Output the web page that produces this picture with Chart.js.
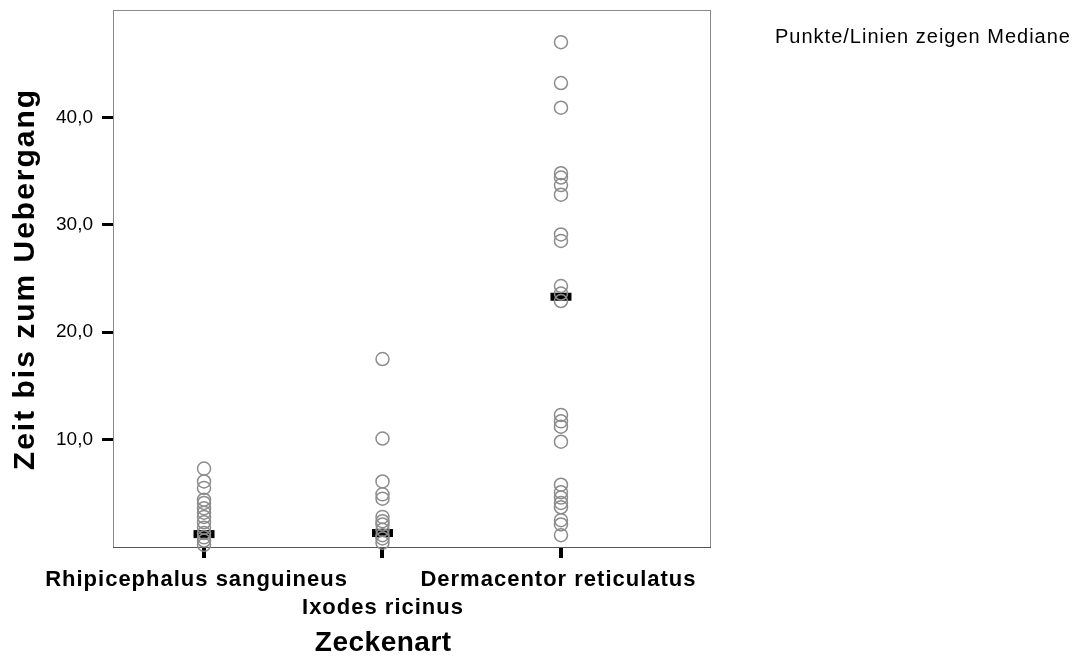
<!DOCTYPE html>
<html>
<head>
<meta charset="utf-8">
<script src="https://cdn.jsdelivr.net/npm/chart.js@4/dist/chart.umd.min.js"></script>
<style>
  html, body { margin: 0; padding: 0; background: #fff; }
  canvas { display: block; }
</style>
</head>
<body>
<canvas id="chart" width="1085" height="660"></canvas>
<script>
const categories = ['Rhipicephalus sanguineus', 'Ixodes ricinus', 'Dermacentor reticulatus'];
const rhipicephalusTimes = [7.3, 6.1, 5.5, 4.4, 4.1, 3.6, 3.2, 2.8, 2.3, 1.8, 1.3, 0.9, 0.6, 0.2];
const ixodesTimes = [17.5, 10.1, 6.1, 4.9, 4.5, 2.8, 2.4, 2.1, 1.6, 1.1, 0.8, 0.4];
const dermacentorTimes = [47.0, 43.2, 40.9, 34.8, 34.4, 33.7, 32.8, 29.1, 28.5, 24.3, 23.6, 22.9,
  12.3, 11.7, 11.2, 9.8, 5.8, 5.1, 4.6, 4.1, 3.7, 2.5, 2.1, 1.1];
const medianTimes = [1.2, 1.3, 23.3];
const yTickValues = [10, 20, 30, 40];

const FONT = "'Liberation Sans', Arial, sans-serif";

// one x position per species, points stacked on it
const groups = [rhipicephalusTimes, ixodesTimes, dermacentorTimes];
const points = [];
groups.forEach((times, i) => {
  times.forEach(t => points.push({ x: i + 1, y: t }));
});
const medianPoints = medianTimes.map((m, i) => ({ x: i + 1, y: m }));

// markers may spill over the frame, don't let them shrink the plot area
Chart.registry.getController('scatter').prototype.getMaxOverflow = () => 0;

function drawText(ctx, text, x, y, font, spacing, align, angle) {
  ctx.save();
  ctx.translate(x, y);
  if (angle) ctx.rotate(angle);
  ctx.font = font;
  ctx.fillStyle = '#000';
  ctx.textAlign = align;
  ctx.textBaseline = 'alphabetic';
  ctx.letterSpacing = spacing + 'px';
  let dx = 0;
  if (align === 'center') dx = spacing / 2; // trailing spacing offset
  ctx.fillText(text, dx, 0);
  ctx.restore();
}

const framePlugin = {
  id: 'frame',
  beforeDatasetsDraw(chart) {
    const { ctx, chartArea: a } = chart;
    ctx.save();
    ctx.strokeStyle = '#8a8a8a';
    ctx.lineWidth = 1;
    ctx.strokeRect(a.left + 0.5, a.top + 0.5, a.right - a.left, a.bottom - a.top);
    ctx.strokeStyle = '#555';
    ctx.beginPath();
    ctx.moveTo(a.left, a.bottom + 0.5);
    ctx.lineTo(a.right + 1, a.bottom + 0.5);
    ctx.stroke();
    ctx.restore();
  }
};

// category names sit a little left of their tick in the first row
const labelShift = [-8, 0, -3];

const labelPlugin = {
  id: 'labels',
  afterDraw(chart) {
    const { ctx } = chart;
    const xs = chart.scales.x;
    const base = chart.chartArea.bottom;
    categories.forEach((name, i) => {
      const px = xs.getPixelForValue(i + 1) + labelShift[i];
      const y = i === 1 ? base + 67 : base + 39;
      drawText(ctx, name, px, y, 'bold 22px ' + FONT, 1, 'center');
    });
    drawText(ctx, 'Zeckenart', 383, 651, 'bold 28px ' + FONT, 0.5, 'center');
    drawText(ctx, 'Zeit bis zum Uebergang', 34, 280, 'bold 30px ' + FONT, 2, 'center', -Math.PI / 2);
    drawText(ctx, 'Punkte/Linien zeigen Mediane', 775, 43, '20px ' + FONT, 1, 'left');
  }
};

new Chart(document.getElementById('chart'), {
  type: 'scatter',
  data: {
    datasets: [
      {
        label: 'Zeit',
        data: points,
        pointStyle: 'circle',
        pointRadius: 6.5,
        pointBorderWidth: 1.5,
        borderColor: '#8c8c8c',
        backgroundColor: 'rgba(0,0,0,0)',
        clip: false
      },
      {
        label: 'Median',
        data: medianPoints,
        pointStyle: 'line',
        pointRadius: 10.5,
        pointBorderWidth: 8,
        borderColor: '#000',
        backgroundColor: '#000',
        clip: false
      }
    ]
  },
  options: {
    responsive: false,
    animation: false,
    devicePixelRatio: 1,
    layout: { padding: { left: 0, top: 10, right: 375, bottom: 0 } },
    plugins: { legend: { display: false }, tooltip: { enabled: false } },
    scales: {
      x: {
        type: 'linear',
        min: 0.49,
        max: 3.835,
        afterBuildTicks: s => { s.ticks = [1, 2, 3].map(v => ({ value: v })); },
        afterFit: s => { s.height = 113; s.paddingLeft = 0; s.paddingRight = 0; },
        ticks: { display: false },
        border: { display: false },
        grid: { drawOnChartArea: false, drawTicks: true, tickLength: 11, color: '#000', lineWidth: 4 }
      },
      y: {
        type: 'linear',
        min: 0,
        max: 50,
        afterBuildTicks: s => { s.ticks = yTickValues.map(v => ({ value: v })); },
        afterFit: s => { s.width = 113; s.paddingTop = 0; s.paddingBottom = 0; },
        ticks: {
          padding: 9,
          color: '#000',
          font: { family: FONT, size: 19 },
          callback: v => v.toFixed(1).replace('.', ',')
        },
        border: { display: false },
        grid: { drawOnChartArea: false, drawTicks: true, tickLength: 11, color: '#000', lineWidth: 3 }
      }
    }
  },
  plugins: [framePlugin, labelPlugin]
});
</script>
</body>
</html>
